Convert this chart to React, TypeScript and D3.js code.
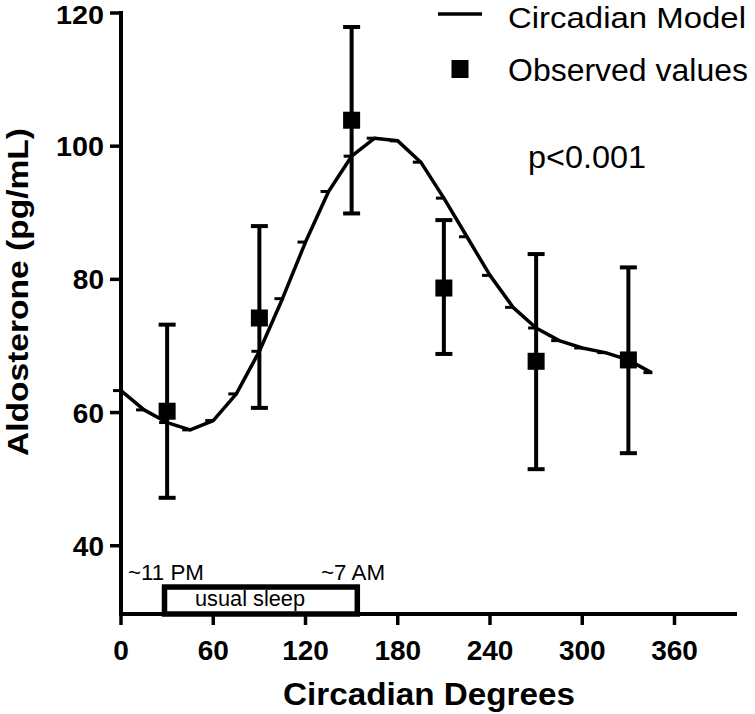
import React from "react";
import * as d3 from "d3";

// Model curve (every 15 circadian degrees)
const modelDegrees = [0, 15, 30, 45, 60, 75, 90, 105, 120, 135, 150, 165, 180, 195, 210, 225, 240, 255, 270, 285, 300, 315, 330, 345];
const modelValues = [63.3, 60.4, 58.5, 57.4, 58.8, 62.8, 69.2, 77.1, 85.6, 93.2, 98.5, 101.2, 100.8, 97.6, 92.2, 86.4, 80.6, 75.8, 72.7, 70.8, 69.7, 69.0, 67.9, 66.0];

// Observed values with error bars
const obsDegrees = [30, 90, 150, 210, 270, 330];
const obsValues = [60.2, 74.2, 103.9, 78.7, 67.7, 67.9];
const obsUpper = [73.2, 88.0, 117.9, 88.9, 83.8, 81.8];
const obsLower = [47.2, 60.7, 89.9, 68.8, 51.5, 53.9];

const xTicks = [0, 60, 120, 180, 240, 300, 360];
const yTicks = [40, 60, 80, 100, 120];

const sleepStart = 28.3;
const sleepEnd = 153.7;
const sleepTop = 33.8;

const FONT = "'Liberation Sans', Arial, Helvetica, sans-serif";

export default function App() {
  const x = d3.scaleLinear().domain([0, 400]).range([121, 736]);
  const y = d3.scaleLinear().domain([29.75, 120]).range([614, 13]);

  const pts: [number, number][] = modelDegrees.map((d, i) => [d, modelValues[i]]);
  const line = d3
    .line<[number, number]>()
    .x((d) => x(d[0]))
    .y((d) => y(d[1]))
    .curve(d3.curveLinear);

  const x0 = x(0);
  const yBase = y(29.75);
  const sq = 17;
  const cap = 17;

  return (
    <svg
      width={755}
      height={714}
      style={{ position: "absolute", left: 0, top: 0, display: "block", background: "#fff" }}
      fontFamily={FONT}
    >
      <rect x={0} y={0} width={755} height={714} fill="#fff" />

      {/* sleep box */}
      <rect
        x={x(sleepStart)}
        y={y(sleepTop)}
        width={x(sleepEnd) - x(sleepStart)}
        height={yBase - y(sleepTop)}
        fill="#fff"
        stroke="#000"
        strokeWidth={5.5}
      />
      <text x={195} y={606} fontSize={22} fill="#000" textLength={110} lengthAdjust="spacingAndGlyphs">usual sleep</text>
      <text x={128} y={580} fontSize={22} fill="#000" textLength={76} lengthAdjust="spacingAndGlyphs">~11 PM</text>
      <text x={321} y={580} fontSize={22} fill="#000" textLength={64} lengthAdjust="spacingAndGlyphs">~7 AM</text>

      {/* axes */}
      <line x1={x0} x2={x0} y1={11} y2={yBase + 2} stroke="#000" strokeWidth={4} />
      <line x1={x0 - 2} x2={x(400) + 1} y1={yBase} y2={yBase} stroke="#000" strokeWidth={4} />
      {yTicks.map((t) => {
        const top = t === 120;
        const wide = t >= 100;
        return (
          <g key={"yt" + t}>
            <line x1={x0 - 11} x2={x0} y1={y(t)} y2={y(t)} stroke="#000" strokeWidth={3.5} />
            <text
              x={104}
              y={top ? y(t) + 11 : y(t)}
              dy={top ? "0" : "0.36em"}
              textAnchor="end"
              fontSize={top ? 26 : 28}
              fontWeight="bold"
              fill="#000"
              textLength={wide ? 48 : undefined}
              lengthAdjust={wide ? "spacingAndGlyphs" : undefined}
            >
              {t}
            </text>
          </g>
        );
      })}
      {xTicks.map((t) => (
        <g key={"xt" + t}>
          <line x1={x(t)} x2={x(t)} y1={yBase} y2={yBase + 11} stroke="#000" strokeWidth={3.5} />
          <text x={x(t)} y={660} textAnchor="middle" fontSize={28} fontWeight="bold" fill="#000">
            {t}
          </text>
        </g>
      ))}

      {/* axis titles */}
      <text
        x={429}
        y={705}
        textAnchor="middle"
        fontSize={32}
        fontWeight="bold"
        fill="#000"
        textLength={292}
        lengthAdjust="spacingAndGlyphs"
      >
        Circadian Degrees
      </text>
      <text
        transform="translate(28,292) rotate(-90)"
        textAnchor="middle"
        fontSize={30}
        fontWeight="bold"
        fill="#000"
        textLength={328}
        lengthAdjust="spacingAndGlyphs"
      >
        Aldosterone (pg/mL)
      </text>

      {/* model curve */}
      <path d={line(pts) || ""} fill="none" stroke="#000" strokeWidth={3.5} strokeLinejoin="round" />
      {pts.map((p, i) => (
        <line
          key={"dm" + i}
          x1={x(p[0]) - 8}
          x2={x(p[0]) + 1}
          y1={y(p[1])}
          y2={y(p[1])}
          stroke="#000"
          strokeWidth={3}
        />
      ))}

      {/* observed */}
      {obsDegrees.map((d, i) => {
        const cx = x(d);
        return (
          <g key={"ob" + i}>
            <line x1={cx} x2={cx} y1={y(obsUpper[i])} y2={y(obsLower[i])} stroke="#000" strokeWidth={4} />
            <line x1={cx - cap / 2} x2={cx + cap / 2} y1={y(obsUpper[i])} y2={y(obsUpper[i])} stroke="#000" strokeWidth={4} />
            <line x1={cx - cap / 2} x2={cx + cap / 2} y1={y(obsLower[i])} y2={y(obsLower[i])} stroke="#000" strokeWidth={4} />
            <rect x={cx - sq / 2} y={y(obsValues[i]) - sq / 2} width={sq} height={sq} fill="#000" />
          </g>
        );
      })}

      {/* legend */}
      <line x1={438} x2={482} y1={14} y2={14} stroke="#000" strokeWidth={3.5} />
      <text x={508} y={27.5} fontSize={30} fill="#000" textLength={238} lengthAdjust="spacingAndGlyphs">
        Circadian Model
      </text>
      <rect x={451.5} y={60} width={17} height={18} fill="#000" />
      <text x={508} y={81} fontSize={31} fill="#000" textLength={240} lengthAdjust="spacingAndGlyphs">
        Observed values
      </text>

      <text x={528} y={167.5} fontSize={31} fill="#000" textLength={118} lengthAdjust="spacingAndGlyphs">
        p&lt;0.001
      </text>
    </svg>
  );
}
